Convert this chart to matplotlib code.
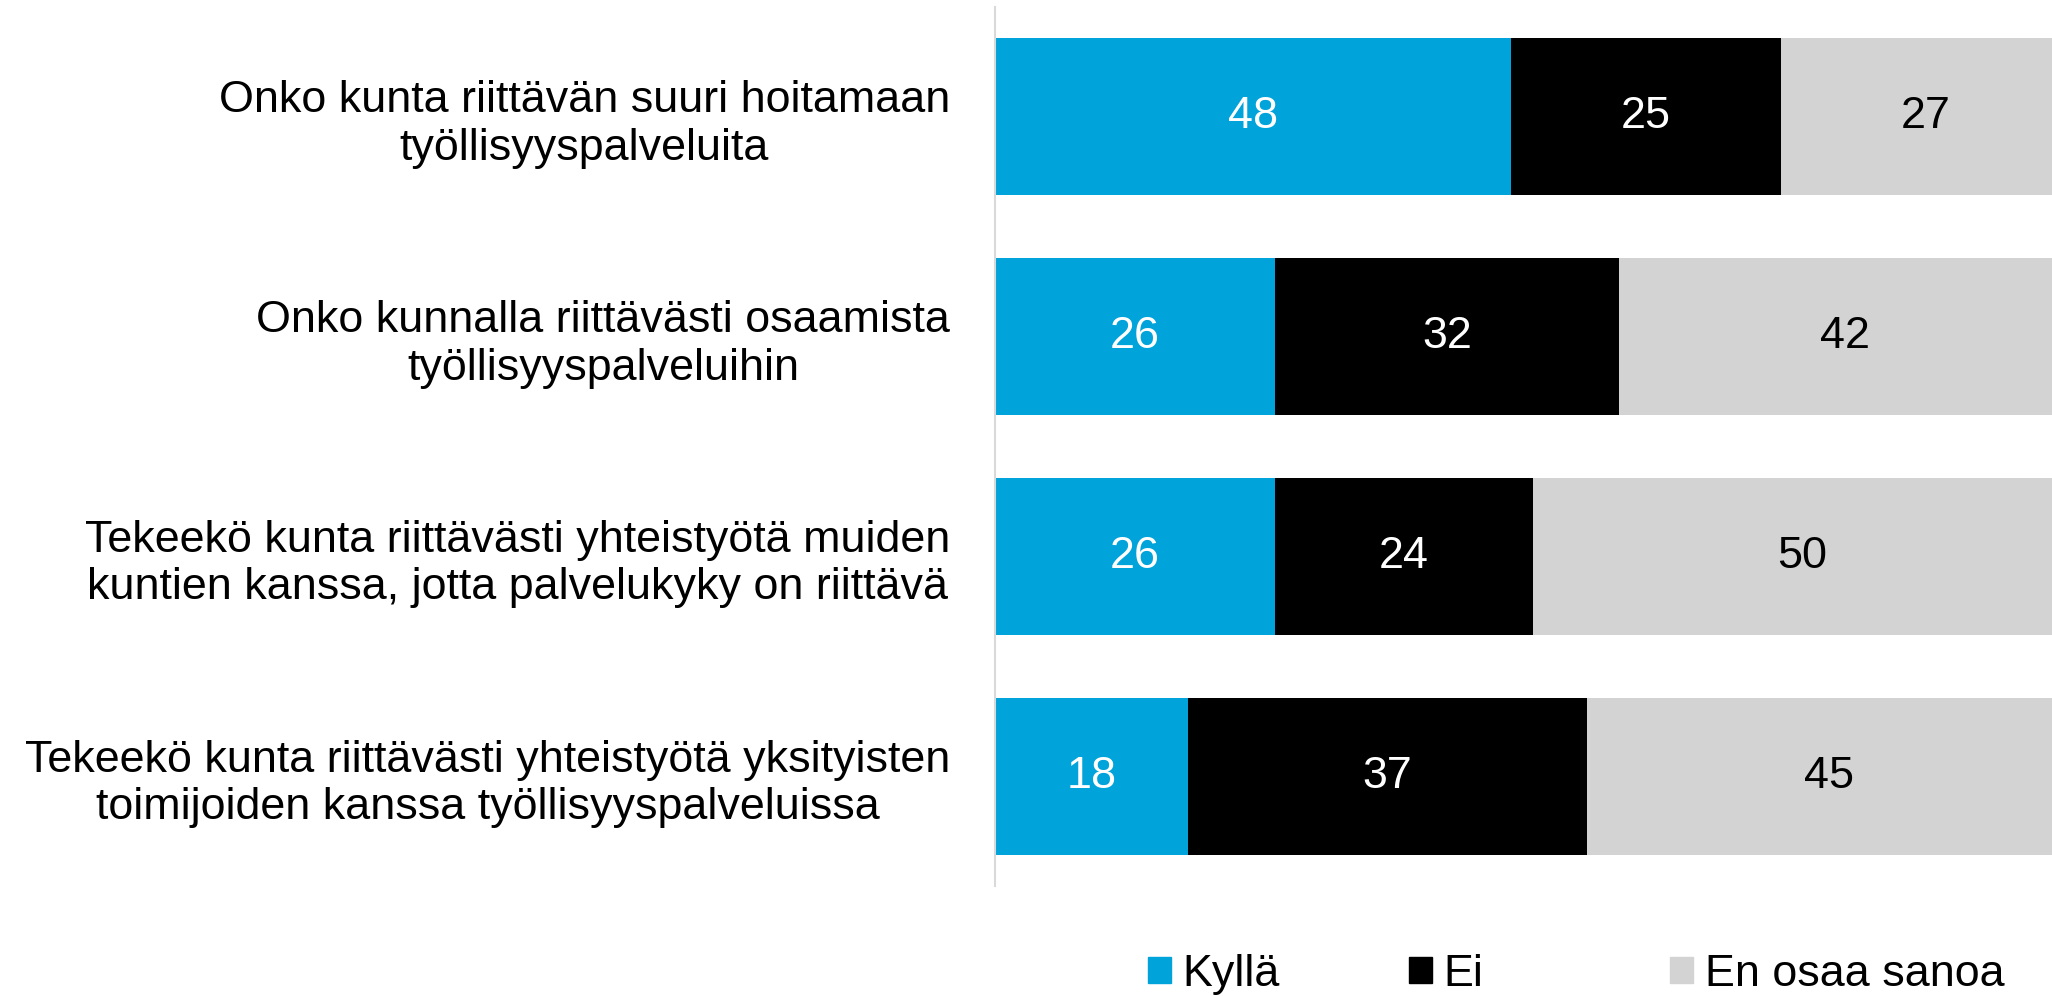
import matplotlib.pyplot as plt
from matplotlib.patches import Patch

plt.rcParams['font.family'] = ['Liberation Sans', 'DejaVu Sans']

questions = [
    'Onko kunta riittävän suuri hoitamaan\ntyöllisyyspalveluita',
    'Onko kunnalla riittävästi osaamista\ntyöllisyyspalveluihin',
    'Tekeekö kunta riittävästi yhteistyötä muiden\nkuntien kanssa, jotta palvelukyky on riittävä',
    'Tekeekö kunta riittävästi yhteistyötä yksityisten\ntoimijoiden kanssa työllisyyspalveluissa',
]
kylla = [48, 26, 26, 18]
ei = [25, 32, 24, 37]
en_osaa = [27, 42, 50, 45]

series = ['Kyllä', 'Ei', 'En osaa sanoa']
colors = ['#00A3DA', '#000000', '#D3D3D3']
text_colors = ['white', 'white', 'black']
FS = 32.3

fig = plt.figure(figsize=(20.52, 9.96), dpi=100)
ax = fig.add_axes([0.4847, 0.1104, 0.5153, 0.8826])

y = list(range(len(questions)))
left = [0] * len(questions)
for vals, col, tcol in zip([kylla, ei, en_osaa], colors, text_colors):
    bars = ax.barh(y, vals, left=left, height=0.714, color=col)
    for b, v in zip(bars, vals):
        ax.text(b.get_x() + b.get_width() / 2, b.get_y() + b.get_height() / 2,
                str(v), ha='center', va='center', color=tcol, fontsize=FS)
    left = [l + v for l, v in zip(left, vals)]

ax.set_xlim(0, 98.2)
ax.set_ylim(3.5, -0.5)
ax.set_xticks([])
ax.set_yticks(y)
ax.set_yticklabels(questions, fontsize=FS)
for lbl in ax.get_yticklabels():
    lbl.set_multialignment('center')
ax.tick_params(axis='y', length=0, pad=32)

for s in ['top', 'right', 'bottom']:
    ax.spines[s].set_visible(False)
ax.spines['left'].set_color('#D9D9D9')
ax.spines['left'].set_linewidth(1.5)

# one legend per entry so the keys sit at even spacing
legend_x = [0.5595, 0.6867, 0.8139]
for name, col, lx in zip(series, colors, legend_x):
    fig.legend(handles=[Patch(color=col)], labels=[name], loc='center left',
               bbox_to_anchor=(lx, 0.022), frameon=False, fontsize=FS,
               handlelength=0.52, handleheight=0.52, handletextpad=0.25,
               borderaxespad=0, borderpad=0)

fig.savefig('out.png', dpi=100)
